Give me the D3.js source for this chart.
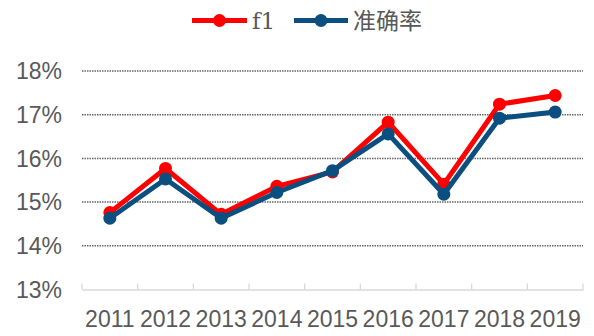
<!DOCTYPE html>
<html><head><meta charset="utf-8">
<script src="https://cdn.jsdelivr.net/npm/d3@7"></script>
<style>body{margin:0;background:#fff;} svg{display:block;}</style>
</head><body>
<svg id="c" width="594" height="336"></svg>
<script>
const years = ["2011","2012","2013","2014","2015","2016","2017","2018","2019"];
const f1 = [14.76, 15.77, 14.72, 15.36, 15.69, 16.83, 15.41, 17.24, 17.44];
const acc = [14.63, 15.53, 14.63, 15.22, 15.72, 16.56, 15.18, 16.92, 17.06];
const yTicks = [13, 14, 15, 16, 17, 18];
const seriesNames = ["f1", "准确率"];
const colors = ["#FF0000", "#0B4F80"];

const svg = d3.select("#c");
const L = 82, R = 583, T = 71, B = 289.5;
const x = d3.scaleBand().domain(years).range([L, R]);
const y = d3.scaleLinear().domain([13, 18]).range([B, T]);

// gridlines
svg.append("g").selectAll("line").data(yTicks.filter(d => d > 13)).join("line")
  .attr("x1", L).attr("x2", R).attr("y1", d => y(d)).attr("y2", d => y(d))
  .attr("stroke", "#666").attr("stroke-width", 1.5).attr("stroke-dasharray", "1.5,1");

// y labels
svg.append("g").selectAll("text").data(yTicks).join("text")
  .attr("x", 62).attr("y", d => y(d)).attr("dy", "0.36em").attr("text-anchor", "end")
  .attr("font-family", "Liberation Sans, Arial, sans-serif").attr("font-size", 23)
  .attr("fill", "#595959").text(d => d + "%");

// x axis
const xa = svg.append("g").attr("transform", `translate(0,${B})`)
  .call(d3.axisBottom(x).tickSize(0).tickPadding(0));
xa.select(".domain").attr("stroke", "#d9d9d9").attr("stroke-width", 1.3);
xa.selectAll("text").attr("font-family", "Liberation Sans, Arial, sans-serif")
  .attr("font-size", 23).attr("fill", "#595959").attr("dy", "0").attr("y", 37);
svg.append("g").selectAll("line").data(years.concat(["end"])).join("line")
  .attr("x1", (d, i) => L + i * x.bandwidth()).attr("x2", (d, i) => L + i * x.bandwidth())
  .attr("y1", B - 6).attr("y2", B).attr("stroke", "#d9d9d9").attr("stroke-width", 1.3);

const cx = d => x(d) + x.bandwidth() / 2;
[f1, acc].forEach((vals, si) => {
  const pts = years.map((yr, i) => [cx(yr), y(vals[i])]);
  svg.append("path").attr("d", d3.line()(pts)).attr("fill", "none")
    .attr("stroke", colors[si]).attr("stroke-width", 5).attr("stroke-linejoin", "round");
  svg.append("g").selectAll("circle").data(pts).join("circle")
    .attr("cx", d => d[0]).attr("cy", d => d[1]).attr("r", 6.5).attr("fill", colors[si]);
});

// legend
const lg = [{x0: 192, x1: 247, tx: 252}, {x0: 294, x1: 348, tx: 353}];
seriesNames.forEach((n, i) => {
  const g = svg.append("g");
  const ly = 20.5;
  g.append("line").attr("x1", lg[i].x0).attr("x2", lg[i].x1).attr("y1", ly).attr("y2", ly)
    .attr("stroke", colors[i]).attr("stroke-width", 5);
  g.append("circle").attr("cx", (lg[i].x0 + lg[i].x1) / 2).attr("cy", ly).attr("r", 6.5).attr("fill", colors[i]);
  g.append("text").attr("x", lg[i].tx).attr("y", ly).attr("dy", "0.36em")
    .attr("font-family", i === 0 ? "DejaVu Serif, Liberation Serif, serif" : "Noto Sans CJK SC, sans-serif")
    .attr("font-size", 23).attr("fill", "#595959").text(n);
});
</script>
</body></html>
